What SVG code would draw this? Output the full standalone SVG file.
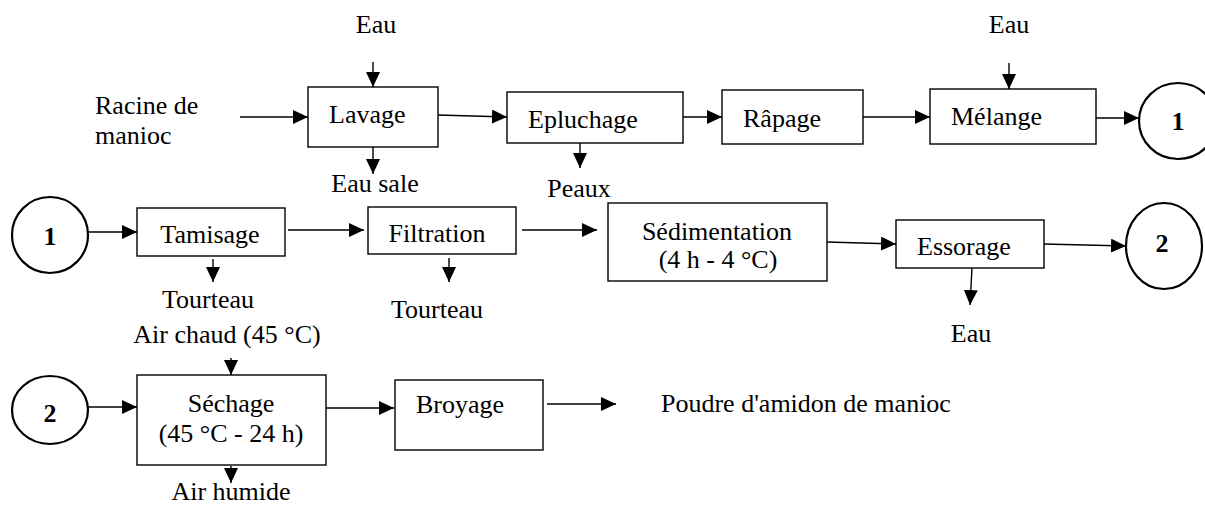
<svg xmlns="http://www.w3.org/2000/svg" width="1205" height="506" viewBox="0 0 1205 506">
<style>
text{font-family:'Liberation Serif','Times New Roman','DejaVu Serif',serif;font-size:26px;fill:#000}
.b{font-weight:bold}
.m{text-anchor:middle}
.box{fill:#fff;stroke:#000;stroke-width:1.4}
ellipse{fill:#fff;stroke:#000;stroke-width:2.2}
#connectors line{stroke:#000;stroke-width:1.4;marker-end:url(#ah)}
</style>
<defs>
<marker id="ah" markerUnits="userSpaceOnUse" markerWidth="15" markerHeight="14" refX="15" refY="7" orient="auto">
<path d="M0,0 L15,7 L0,14 z" fill="#000"/>
</marker>
</defs>
<rect width="1205" height="506" fill="#fff"/>
<g id="connectors">
<line x1="240" y1="117" x2="308" y2="117"/>
<line x1="373" y1="62" x2="373" y2="87"/>
<line x1="373" y1="147" x2="373" y2="174"/>
<line x1="438" y1="115" x2="507" y2="117"/>
<line x1="580" y1="143" x2="580" y2="168"/>
<line x1="683" y1="117" x2="722" y2="117"/>
<line x1="863" y1="117" x2="930" y2="117"/>
<line x1="1009" y1="63" x2="1009" y2="89"/>
<line x1="1096" y1="118" x2="1139" y2="118"/>
<line x1="88" y1="232" x2="137" y2="232"/>
<line x1="213" y1="259" x2="213" y2="282"/>
<line x1="288" y1="230" x2="364" y2="230"/>
<line x1="449" y1="258" x2="449" y2="282"/>
<line x1="522" y1="230" x2="597" y2="230"/>
<line x1="827" y1="242" x2="896" y2="244"/>
<line x1="972" y1="268" x2="970" y2="305"/>
<line x1="1044" y1="244" x2="1126" y2="246"/>
<line x1="88" y1="407" x2="137" y2="407"/>
<line x1="231" y1="358" x2="231" y2="375"/>
<line x1="231" y1="466" x2="231" y2="483"/>
<line x1="326" y1="408" x2="394" y2="408"/>
<line x1="547" y1="404" x2="616" y2="404"/>
</g>
<g id="labels">
<text x="376" y="33" class="m">Eau</text>
<text x="1009" y="33" class="m">Eau</text>
<text x="95" y="114">Racine de</text>
<text x="95" y="144">manioc</text>
<text x="375" y="192" class="m">Eau sale</text>
<text x="579" y="197" class="m">Peaux</text>
<text x="208" y="308" class="m">Tourteau</text>
<text x="437" y="318" class="m">Tourteau</text>
<text x="971" y="342" class="m">Eau</text>
<text x="227" y="343" class="m">Air chaud (45 °C)</text>
<text x="231" y="500" class="m">Air humide</text>
<text x="661" y="412">Poudre d'amidon de manioc</text>
</g>
<g id="lavage"><rect class="box" x="308" y="87" width="130" height="60"/><text x="329" y="123">Lavage</text></g>
<g id="epluchage"><rect class="box" x="507" y="92" width="176" height="51"/><text x="528" y="128">Epluchage</text></g>
<g id="rapage"><rect class="box" x="722" y="90" width="141" height="54"/><text x="743" y="127">Râpage</text></g>
<g id="melange"><rect class="box" x="930" y="89" width="166" height="55"/><text x="951" y="125">Mélange</text></g>
<g id="c1a"><ellipse cx="1178" cy="121" rx="39" ry="38"/><text x="1178" y="130" class="m b">1</text></g>
<g id="c1b"><ellipse cx="50" cy="235" rx="38" ry="38"/><text x="50" y="245" class="m b">1</text></g>
<g id="tamisage"><rect class="box" x="137" y="208" width="148" height="48"/><text x="210" y="243" class="m">Tamisage</text></g>
<g id="filtration"><rect class="box" x="368" y="207" width="148" height="47"/><text x="437" y="242" class="m">Filtration</text></g>
<g id="sedimentation"><rect class="box" x="608" y="203" width="219" height="78"/><text x="717" y="240" class="m">Sédimentation</text><text x="718" y="268" class="m">(4 h - 4 °C)</text></g>
<g id="essorage"><rect class="box" x="896" y="220" width="148" height="48"/><text x="917" y="255">Essorage</text></g>
<g id="c2a"><ellipse cx="1164" cy="246" rx="38" ry="43"/><text x="1162" y="252" class="m b">2</text></g>
<g id="c2b"><ellipse cx="50" cy="410" rx="38" ry="34"/><text x="50" y="422" class="m b">2</text></g>
<g id="sechage"><rect class="box" x="137" y="375" width="189" height="90"/><text x="231" y="412" class="m">Séchage</text><text x="231" y="442" class="m">(45 °C - 24 h)</text></g>
<g id="broyage"><rect class="box" x="395" y="380" width="148" height="70"/><text x="460" y="413" class="m">Broyage</text></g>
</svg>
